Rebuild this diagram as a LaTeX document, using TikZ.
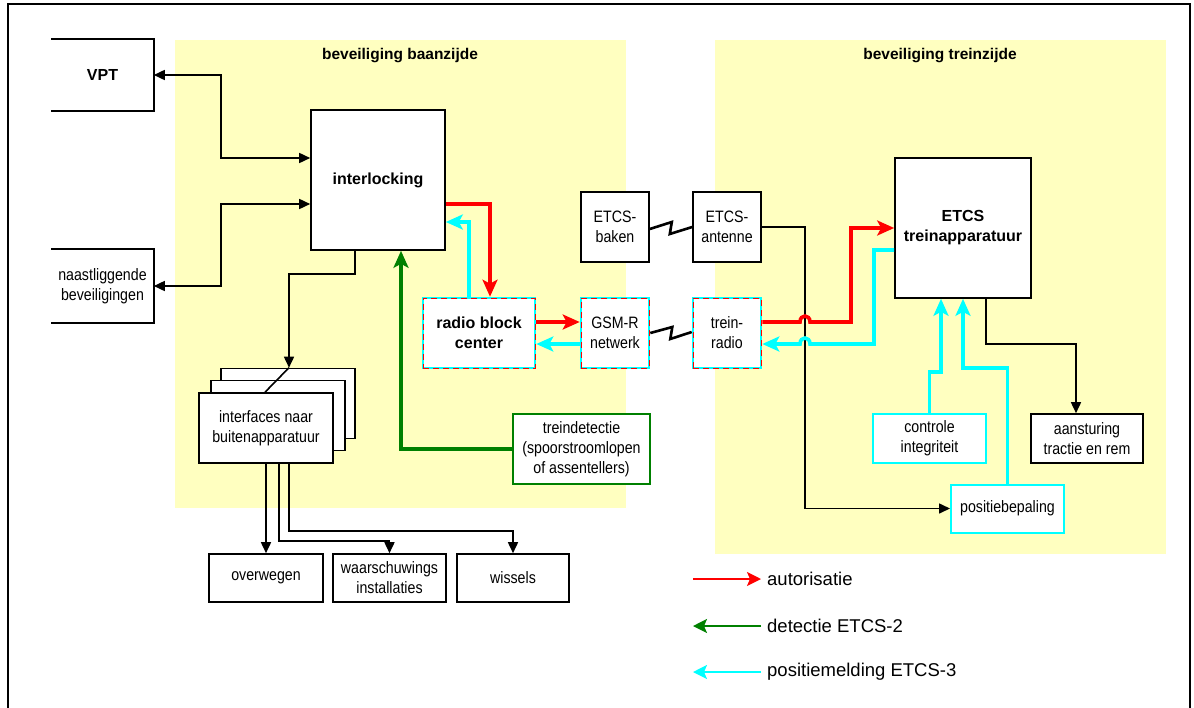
\documentclass[tikz,border=0pt]{standalone}
\usepackage{fontspec}
\setmainfont{Liberation Sans}
\newfontfamily\smalfont[FakeStretch=0.86]{Liberation Sans}
\usetikzlibrary{arrows.meta, calc, positioning}

\definecolor{zone}{RGB}{255,255,192}
\definecolor{dgroen}{RGB}{0,128,0}
\definecolor{lcyaan}{RGB}{0,255,255}

\tikzset{
  blok/.style={draw, line width=1.6pt, fill=white, inner sep=0pt, align=center,
    font=\smalfont\fontsize{16.5}{20}\selectfont},
  vetblok/.style={blok, font=\bfseries\fontsize{16}{20}\selectfont},
  radioblok/.style={draw=lcyaan, line width=2.6pt,
    postaction={draw=red, line width=1pt, dash pattern=on 6pt off 4pt}},
  kop/.style={font=\bfseries\fontsize{15.5}{19}\selectfont},
  lijn/.style={line width=1.6pt},
  pijl/.style={lijn, -{Triangle[length=11pt,width=10pt]}},
  dpijl/.style={lijn, {Triangle[length=11pt,width=10pt]}-{Triangle[length=11pt,width=10pt]}},
  dik/.style={line width=3.6pt, -{Stealth[length=17pt,width=15pt,inset=4pt]}},
  rood/.style={dik, red},
  groen/.style={dik, dgroen},
  cyaan/.style={dik, lcyaan},
  flits/.style={line width=2.6pt, line join=miter},
  legpijl/.style={line width=1.8pt, -{Stealth[length=14pt,width=14pt,inset=3pt]}},
  legtekst/.style={anchor=west, inner sep=0pt, font=\fontsize{18.5}{22}\selectfont}
}

\begin{document}
\begin{tikzpicture}[x=1pt, y=-1pt]
  \useasboundingbox (0,0) rectangle (1194,707);
  \draw[line width=1.6pt] (8,715) -- (8,4) -- (1190,4) -- (1190,715);

  % zones
  \fill[zone] (175,40) rectangle (626,508);
  \fill[zone] (715,40) rectangle (1166,554);
  \node[kop] (kopbaan) at (400,56) {beveiliging baanzijde};
  \node[kop] (koptrein) at (940,56) {beveiliging treinzijde};

  % baanzijde
  \node[vetblok, draw=none, minimum width=101pt, minimum height=70pt] (vpt) at (102.5,75) {VPT};
  \draw[line width=1.6pt] (vpt.north west) -- (vpt.north east) -- (vpt.south east) -- (vpt.south west);
  \node[blok, draw=none, minimum width=101pt, minimum height=72pt] (naast) at (102.5,286) {naastliggende\\beveiligingen};
  \draw[line width=1.6pt] (naast.north west) -- (naast.north east) -- (naast.south east) -- (naast.south west);
  \node[vetblok, minimum width=134pt, minimum height=140pt] (inter) at (378,180) {interlocking};
  \node[vetblok, radioblok, minimum width=112pt, minimum height=70pt] (rbc) at (479,333) {radio block\\center};
  \node[blok, minimum width=134pt, minimum height=70pt] (ifachter) at (288,403.5) {};
  \node[blok, minimum width=134pt, minimum height=70pt] (ifmidden) at (278,415.5) {};
  \node[blok, minimum width=134pt, minimum height=70pt] (ifvoor) at (266,428) {interfaces naar\\buitenapparatuur};
  \node[blok, minimum width=114pt, minimum height=48pt] (overweg) at (266,578) {overwegen};
  \node[blok, minimum width=113pt, minimum height=48pt] (waarsch) at (389.5,578) {waarschuwings\\installaties};
  \node[blok, minimum width=112pt, minimum height=48pt] (wissels) at (513,578) {wissels};
  \node[blok, draw=dgroen, minimum width=137pt, minimum height=70pt] (treindet) at (581.5,449) {treindetectie\\(spoorstroomlopen\\of assentellers)};

  % radio en bakens
  \node[blok, radioblok, minimum width=68pt, minimum height=70pt] (gsmr) at (615,333) {GSM-R\\netwerk};
  \node[blok, radioblok, minimum width=68pt, minimum height=70pt] (radio) at (727,333) {trein-\\radio};
  \node[blok, minimum width=68pt, minimum height=70pt] (baken) at (615,227) {ETCS-\\baken};
  \node[blok, minimum width=68pt, minimum height=70pt] (antenne) at (727,227) {ETCS-\\antenne};

  % treinzijde
  \node[vetblok, minimum width=136pt, minimum height=140pt] (etcs) at (963,228) {ETCS\\treinapparatuur};
  \node[blok, draw=lcyaan, line width=2pt, minimum width=113pt, minimum height=49pt] (controle) at (929.5,438.5) {controle\\integriteit};
  \node[blok, minimum width=112pt, minimum height=49pt] (aanst) at (1087,438.5) {aansturing\\tractie en rem};
  \node[blok, draw=lcyaan, line width=2pt, minimum width=113pt, minimum height=48pt] (positie) at (1007.5,508.5) {positiebepaling};

  % zwarte verbindingen
  \draw[dpijl] (vpt.east) -| (221,158) -- (inter.west |- 0,158);
  \draw[dpijl] (inter.west |- 0,204) -| (221,286) -- (naast.east);
  \draw[pijl] (inter.south -| 355,0) |- (289,274) -- (ifachter.north -| 289,0);
  \draw[lijn] (ifachter.north -| 289,0) -- (ifvoor.north -| 265,0);
  \draw[pijl] (ifvoor.south) -- (overweg.north);
  \draw[pijl] (ifvoor.south -| 279,0) |- (389.5,541) -- (waarsch.north);
  \draw[pijl] (ifvoor.south -| 289,0) |- (513,531) -- (wissels.north);
  \draw[pijl] (antenne.east) -| (805,508.5) -- (positie.west);
  \draw[pijl] (etcs.south -| 986,0) |- (1076,344) -- (aanst.north -| 1076,0);
  \draw[flits] (baken.east |- 0,229) -- ++(22,-7) -- ++(-2,12) -- (antenne.west |- 0,227);
  \draw[flits] (gsmr.east |- 0,333) -- ++(22,-6) -- ++(-2,12) -- (radio.west |- 0,332);

  % gekleurde verbindingen
  \draw[groen] (treindet.west) -| (inter.south -| 401,0);
  \draw[rood] (inter.east |- 0,204) -| (rbc.north -| 490,0);
  \draw[cyaan] (rbc.north -| 469,0) |- (inter.east |- 0,222);
  \draw[rood] (rbc.east |- 0,322) -- (gsmr.west |- 0,322);
  \draw[cyaan] (gsmr.west |- 0,344) -- (rbc.east |- 0,344);
  \draw[rood] (radio.east |- 0,322) -- (800,322) .. controls (800,314) and (810,314) .. (810,322)
    -| (851,228) -- (etcs.west |- 0,228);
  \draw[cyaan] (etcs.west |- 0,250) -| (874,344) -- (810,344) .. controls (810,336) and (800,336) .. (800,344)
    -- (radio.east |- 0,344);
  \draw[cyaan] (controle.north) |- (941,372) -- (etcs.south -| 941,0);
  \draw[cyaan] (positie.north) |- (963,368) -- (etcs.south -| 963,0);

  % legenda
  \coordinate (leg1a) at (693,579);
  \coordinate (leg1b) at (761,579);
  \coordinate (leg2a) at (693,626);
  \coordinate (leg2b) at (761,626);
  \coordinate (leg3a) at (693,672);
  \coordinate (leg3b) at (761,672);
  \draw[legpijl, red] (leg1a) -- (leg1b);
  \draw[legpijl, dgroen] (leg2b) -- (leg2a);
  \draw[legpijl, lcyaan] (leg3b) -- (leg3a);
  \node[legtekst, right=6pt of leg1b] (leg1) {autorisatie};
  \node[legtekst, right=6pt of leg2b] (leg2) {detectie ETCS-2};
  \node[legtekst, right=6pt of leg3b] (leg3) {positiemelding ETCS-3};
\end{tikzpicture}
\end{document}
